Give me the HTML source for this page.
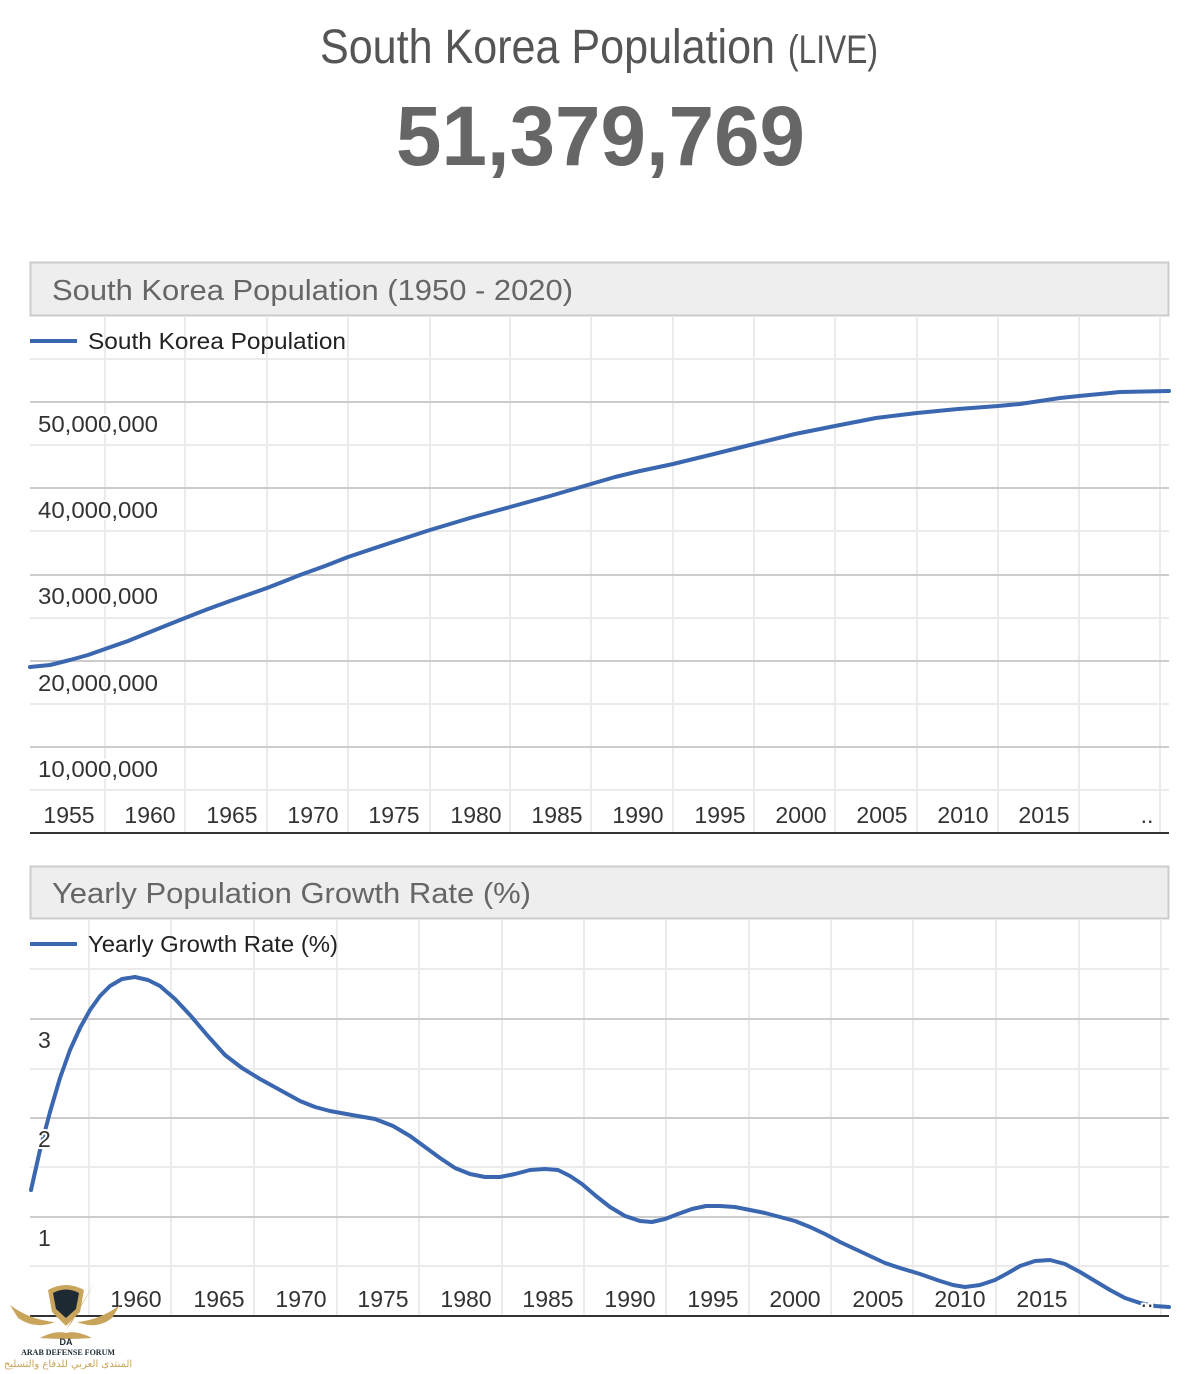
<!DOCTYPE html>
<html><head><meta charset="utf-8"><style>
html,body{margin:0;padding:0;background:#fff;}
svg{display:block;}
text{font-family:"Liberation Sans",sans-serif;}
.lab{fill:#333;font-size:23px;stroke:#fff;stroke-width:4px;paint-order:stroke;stroke-linejoin:round;}
</style></head><body>
<svg width="1193" height="1374" viewBox="0 0 1193 1374" xmlns="http://www.w3.org/2000/svg">
<text x="320" y="63" font-size="48" fill="#555" textLength="455" lengthAdjust="spacingAndGlyphs" style="font-weight:300">South Korea Population</text>
<text x="788" y="63" font-size="40" fill="#555" textLength="90" lengthAdjust="spacingAndGlyphs">(LIVE)</text>
<text x="396" y="165" font-size="84" font-weight="bold" fill="#666" textLength="409" lengthAdjust="spacingAndGlyphs">51,379,769</text>

<!-- Chart 1 -->
<rect x="30.5" y="262.5" width="1138" height="53" fill="#eee" stroke="#ccc" stroke-width="2"/>
<text x="52" y="300" font-size="29" fill="#666" textLength="521" lengthAdjust="spacingAndGlyphs">South Korea Population (1950 - 2020)</text>
<g stroke="#ebebeb" stroke-width="2">
<line x1="105" y1="316" x2="105" y2="833"/><line x1="185" y1="316" x2="185" y2="833"/><line x1="267" y1="316" x2="267" y2="833"/><line x1="348" y1="316" x2="348" y2="833"/><line x1="430" y1="316" x2="430" y2="833"/><line x1="510" y1="316" x2="510" y2="833"/><line x1="591" y1="316" x2="591" y2="833"/><line x1="673" y1="316" x2="673" y2="833"/><line x1="754" y1="316" x2="754" y2="833"/><line x1="835" y1="316" x2="835" y2="833"/><line x1="917" y1="316" x2="917" y2="833"/><line x1="998" y1="316" x2="998" y2="833"/><line x1="1079" y1="316" x2="1079" y2="833"/><line x1="1160" y1="316" x2="1160" y2="833"/>
<line x1="30" y1="359" x2="1169" y2="359"/><line x1="30" y1="445" x2="1169" y2="445"/><line x1="30" y1="531" x2="1169" y2="531"/><line x1="30" y1="618" x2="1169" y2="618"/><line x1="30" y1="704" x2="1169" y2="704"/><line x1="30" y1="790" x2="1169" y2="790"/>
</g>
<g stroke="#ccc" stroke-width="2">
<line x1="30" y1="402" x2="1169" y2="402"/><line x1="30" y1="488" x2="1169" y2="488"/><line x1="30" y1="575" x2="1169" y2="575"/><line x1="30" y1="661" x2="1169" y2="661"/><line x1="30" y1="747" x2="1169" y2="747"/>
</g>
<line x1="30" y1="341" x2="77" y2="341" stroke="#3a67b0" stroke-width="4"/>
<text x="88" y="349" font-size="23" fill="#222" textLength="258" lengthAdjust="spacingAndGlyphs">South Korea Population</text>
<polyline fill="none" stroke="#3a67b0" stroke-width="4" stroke-linejoin="round" stroke-linecap="round" points="30,667 50,665 70,660 88,655 105,649 128,641 150,632 170,624 185,618 208,609 230,601 250,594 267,588 285,581 300,575 325,566 348,557 390,543 430,530 470,518 510,507 550,496 591,484 615,477 640,471 673,464 714,454 754,444 795,434 835,426 876,418 917,413 958,409 998,406 1020,404 1040,401 1060,398 1079,396 1100,394 1120,392 1145,391.5 1169,391"/>
<g class="lab">
<text x="38" y="432" textLength="120" lengthAdjust="spacingAndGlyphs">50,000,000</text><text x="38" y="518" textLength="120" lengthAdjust="spacingAndGlyphs">40,000,000</text><text x="38" y="604" textLength="120" lengthAdjust="spacingAndGlyphs">30,000,000</text><text x="38" y="691" textLength="120" lengthAdjust="spacingAndGlyphs">20,000,000</text><text x="38" y="777" textLength="120" lengthAdjust="spacingAndGlyphs">10,000,000</text>
</g>
<g class="lab" text-anchor="middle">
<text x="69" y="823">1955</text><text x="150" y="823">1960</text><text x="232" y="823">1965</text><text x="313" y="823">1970</text><text x="394" y="823">1975</text><text x="476" y="823">1980</text><text x="557" y="823">1985</text><text x="638" y="823">1990</text><text x="720" y="823">1995</text><text x="801" y="823">2000</text><text x="882" y="823">2005</text><text x="963" y="823">2010</text><text x="1044" y="823">2015</text><text x="1147" y="823">..</text>
</g>
<line x1="30" y1="833" x2="1169" y2="833" stroke="#333" stroke-width="2"/>

<!-- Chart 2 -->
<rect x="30.5" y="866.5" width="1138" height="52" fill="#eee" stroke="#ccc" stroke-width="2"/>
<text x="52" y="903" font-size="29" fill="#666" textLength="479" lengthAdjust="spacingAndGlyphs">Yearly Population Growth Rate (%)</text>
<g stroke="#ebebeb" stroke-width="2">
<line x1="89" y1="919" x2="89" y2="1316"/><line x1="171" y1="919" x2="171" y2="1316"/><line x1="254" y1="919" x2="254" y2="1316"/><line x1="337" y1="919" x2="337" y2="1316"/><line x1="419" y1="919" x2="419" y2="1316"/><line x1="502" y1="919" x2="502" y2="1316"/><line x1="584" y1="919" x2="584" y2="1316"/><line x1="666" y1="919" x2="666" y2="1316"/><line x1="749" y1="919" x2="749" y2="1316"/><line x1="831" y1="919" x2="831" y2="1316"/><line x1="913" y1="919" x2="913" y2="1316"/><line x1="996" y1="919" x2="996" y2="1316"/><line x1="1079" y1="919" x2="1079" y2="1316"/><line x1="1161" y1="919" x2="1161" y2="1316"/>
<line x1="30" y1="969" x2="1169" y2="969"/><line x1="30" y1="1069" x2="1169" y2="1069"/><line x1="30" y1="1167" x2="1169" y2="1167"/><line x1="30" y1="1266" x2="1169" y2="1266"/>
</g>
<g stroke="#ccc" stroke-width="2">
<line x1="30" y1="1019" x2="1169" y2="1019"/><line x1="30" y1="1118" x2="1169" y2="1118"/><line x1="30" y1="1217" x2="1169" y2="1217"/>
</g>
<line x1="30" y1="944" x2="77" y2="944" stroke="#3a67b0" stroke-width="4"/>
<text x="88" y="952" font-size="23" fill="#222" textLength="250" lengthAdjust="spacingAndGlyphs">Yearly Growth Rate (%)</text>
<polyline fill="none" stroke="#3a67b0" stroke-width="4" stroke-linejoin="round" stroke-linecap="round" points="31,1190 40,1150 50,1112 60,1078 70,1050 80,1028 90,1010 100,996 110,986 122,979 135,977 148,980 160,986 175,999 190,1015 207,1035 225,1055 242,1068 260,1079 280,1090 300,1101 315,1107 330,1111 352,1115 375,1119 393,1126 410,1136 425,1147 440,1158 455,1168 470,1174 485,1177 500,1177 515,1174 530,1170 545,1169 558,1170 570,1176 582,1184 596,1196 610,1207 625,1216 640,1221 652,1222 665,1219 678,1214 692,1209 706,1206 720,1206 735,1207 750,1210 765,1213 780,1217 795,1221 810,1227 825,1234 840,1242 855,1249 870,1256 885,1263 900,1268 920,1274 940,1281 953,1285 965,1287 980,1285 995,1280 1008,1273 1020,1266 1035,1261 1050,1260 1065,1264 1080,1272 1095,1281 1110,1290 1125,1298 1140,1303 1155,1306 1169,1307"/>
<g class="lab">
<text x="38" y="1048">3</text><text x="38" y="1147">2</text><text x="38" y="1246">1</text>
</g>
<g class="lab" text-anchor="middle">
<text x="136" y="1307">1960</text><text x="219" y="1307">1965</text><text x="301" y="1307">1970</text><text x="383" y="1307">1975</text><text x="466" y="1307">1980</text><text x="548" y="1307">1985</text><text x="630" y="1307">1990</text><text x="713" y="1307">1995</text><text x="795" y="1307">2000</text><text x="878" y="1307">2005</text><text x="960" y="1307">2010</text><text x="1042" y="1307">2015</text><text x="1147" y="1307">..</text>
</g>
<line x1="30" y1="1316" x2="1169" y2="1316" stroke="#333" stroke-width="2"/>

<!-- logo -->
<path d="M48,1290 Q66,1280 84,1290 L80,1312 L66,1326 L52,1312 Z" fill="#c9a55c"/>
<path d="M53,1293 Q66,1286 79,1293 L76,1309 L66,1318 L56,1309 Z" fill="#1d2a33"/>
<path d="M66,1330 L95,1282 L72,1322 Z" fill="#c9a55c"/>
<path d="M10,1305 Q30,1320 55,1322 Q35,1330 18,1318 Z" fill="#c9a55c"/>
<path d="M120,1305 Q100,1320 77,1322 Q97,1330 112,1318 Z" fill="#c9a55c"/>
<path d="M40,1338 Q55,1330 66,1333 Q76,1330 92,1338 Q66,1340 40,1338 Z" fill="#c9a55c"/>
<text x="66" y="1345" font-size="9" font-weight="bold" fill="#1d2a33" text-anchor="middle">DA</text>
<text x="68" y="1355" font-size="8" font-weight="bold" fill="#1d2a33" text-anchor="middle" style="font-family:'Liberation Serif',serif">ARAB DEFENSE FORUM</text>
<text x="68" y="1367" font-size="10" fill="#c9a55c" text-anchor="middle" style="font-family:'DejaVu Sans',sans-serif">المنتدى العربي للدفاع والتسليح</text>
</svg>
</body></html>
